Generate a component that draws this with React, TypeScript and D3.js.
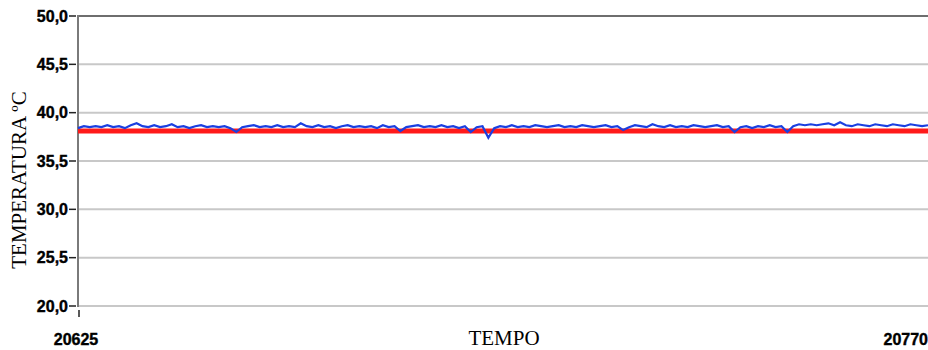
import * as d3 from "d3";
import { useEffect, useRef } from "react";

// temperature readings (blue) – one per time step
const tempoInicio = 20625;
const tempoFim = 20770;
const serieAzul = [
  38.4, 38.6, 38.5, 38.6, 38.5, 38.7, 38.5, 38.6, 38.4, 38.7,
  38.9, 38.6, 38.5, 38.7, 38.5, 38.6, 38.8, 38.5, 38.6, 38.4,
  38.6, 38.7, 38.5, 38.6, 38.5, 38.6, 38.4, 38.0, 38.5, 38.6,
  38.7, 38.5, 38.6, 38.5, 38.7, 38.5, 38.6, 38.5, 38.9, 38.6,
  38.5, 38.7, 38.5, 38.6, 38.4, 38.6, 38.7, 38.5, 38.6, 38.5,
  38.6, 38.4, 38.7, 38.5, 38.6, 38.1, 38.5, 38.6, 38.7, 38.5,
  38.6, 38.5, 38.7, 38.5, 38.6, 38.4, 38.6, 38.0, 38.5, 38.6,
  37.4, 38.4, 38.6, 38.5, 38.7, 38.5, 38.6, 38.5, 38.7, 38.6,
  38.5, 38.6, 38.7, 38.5, 38.6, 38.5, 38.7, 38.6, 38.5, 38.6,
  38.7, 38.5, 38.6, 38.2, 38.5, 38.7, 38.6, 38.5, 38.8, 38.6,
  38.5, 38.7, 38.5, 38.6, 38.5, 38.7, 38.6, 38.5, 38.6, 38.7,
  38.5, 38.6, 38.0, 38.5, 38.6, 38.4, 38.6, 38.5, 38.7, 38.5,
  38.6, 38.0, 38.6, 38.8, 38.7, 38.8, 38.7, 38.8, 38.9, 38.7,
  39.0, 38.7, 38.6, 38.8, 38.7, 38.6, 38.8, 38.7, 38.6, 38.8,
  38.7, 38.6, 38.8, 38.7, 38.6, 38.7,
];

// reference (red) – sampled every 5 steps
const serieVermelha = [
  38.1, 38.1, 38.1, 38.1, 38.1, 38.1, 38.1, 38.1, 38.1, 38.1,
  38.1, 38.1, 38.1, 38.1, 38.1, 38.1, 38.1, 38.1, 38.1, 38.1,
  38.1, 38.1, 38.1, 38.1, 38.1, 38.1, 38.1, 38.1, 38.1, 38.1,
];

const yTicks = [50, 45, 40, 35, 30, 25, 20];
const yTickLabels = ["50,0", "45,5", "40,0", "35,5", "30,0", "25,5", "20,0"];
const xTickLabels = ["20625", "20770"];

export default function App() {
  const ref = useRef<SVGSVGElement>(null);

  useEffect(() => {
    if (!ref.current) return;
    const svg = d3.select(ref.current);
    svg.selectAll("*").remove();

    const width = 928,
      height = 350,
      margin = { top: 16, right: 0, bottom: 44, left: 78 };

    const x = d3
      .scaleLinear()
      .domain([tempoInicio, tempoFim])
      .range([margin.left, width - margin.right]);

    const y = d3
      .scaleLinear()
      .domain([20, 50])
      .range([height - margin.bottom, margin.top]);

    // grid lines
    svg
      .append("g")
      .selectAll("line")
      .data(yTicks.slice(1))
      .enter()
      .append("line")
      .attr("x1", margin.left)
      .attr("x2", width)
      .attr("y1", (d) => y(d))
      .attr("y2", (d) => y(d))
      .attr("stroke", "#c8c8c8")
      .attr("stroke-width", 2);

    // top border
    svg
      .append("line")
      .attr("x1", margin.left)
      .attr("x2", width)
      .attr("y1", y(50))
      .attr("y2", y(50))
      .attr("stroke", "#6e6e6e")
      .attr("stroke-width", 2);

    // left axis line
    svg
      .append("line")
      .attr("x1", margin.left)
      .attr("x2", margin.left)
      .attr("y1", y(50) - 1)
      .attr("y2", y(20) + 1)
      .attr("stroke", "#7a7a7a")
      .attr("stroke-width", 2);

    const tickFont = (t: d3.Selection<SVGTextElement, unknown, null, undefined>) =>
      t
        .attr("font-family", "Liberation Sans, Arial, sans-serif")
        .attr("font-weight", "bold")
        .attr("font-size", "16px")
        .attr("fill", "#000")
        .attr("stroke", "#000")
        .attr("stroke-width", 0.4);

    // y ticks + labels
    const yt = svg.append("g");
    yTicks.forEach((v, i) => {
      yt.append("line")
        .attr("x1", margin.left - 9)
        .attr("x2", margin.left - 2)
        .attr("y1", y(v))
        .attr("y2", y(v))
        .attr("stroke", "#222")
        .attr("stroke-width", 1.5);
      yt.append("text")
        .attr("x", margin.left - 10)
        .attr("y", y(v))
        .attr("dy", "0.36em")
        .attr("text-anchor", "end")
        .call(tickFont)
        .text(yTickLabels[i]);
    });

    // x tick at start
    svg
      .append("line")
      .attr("x1", x(tempoInicio) + 1)
      .attr("x2", x(tempoInicio) + 1)
      .attr("y1", y(20) + 4)
      .attr("y2", y(20) + 11)
      .attr("stroke", "#222")
      .attr("stroke-width", 1.5);

    svg
      .append("text")
      .attr("x", x(tempoInicio) - 2)
      .attr("y", 345)
      .attr("text-anchor", "middle")
      .call(tickFont)
      .text(xTickLabels[0]);

    svg
      .append("text")
      .attr("x", x(tempoFim))
      .attr("y", 345)
      .attr("text-anchor", "end")
      .call(tickFont)
      .text(xTickLabels[1]);

    // red series
    const line = d3
      .line<number>()
      .x((d, i) => x(tempoInicio + i * 5))
      .y((d) => y(d));
    const redData = serieVermelha.concat([serieVermelha[serieVermelha.length - 1]]);
    svg
      .append("path")
      .datum(redData)
      .attr("fill", "none")
      .attr("stroke", "#ff1a1a")
      .attr("stroke-width", 5)
      .attr("d", line);

    // blue series
    const blueLine = d3
      .line<number>()
      .x((d, i) => x(tempoInicio + i))
      .y((d) => y(d));
    svg
      .append("path")
      .datum(serieAzul)
      .attr("fill", "none")
      .attr("stroke", "#1a3fe0")
      .attr("stroke-width", 2.2)
      .attr("stroke-linejoin", "miter")
      .attr("d", blueLine);

    // axis titles
    svg
      .append("text")
      .attr("x", 504)
      .attr("y", 345)
      .attr("text-anchor", "middle")
      .attr("font-family", "Liberation Serif, Times New Roman, serif")
      .attr("font-size", "21px")
      .attr("fill", "#000")
      .text("TEMPO");

    svg
      .append("text")
      .attr("transform", "rotate(-90)")
      .attr("x", -180)
      .attr("y", 26)
      .attr("text-anchor", "middle")
      .attr("font-family", "Liberation Serif, Times New Roman, serif")
      .attr("font-size", "21px")
      .attr("fill", "#000")
      .text("TEMPERATURA ºC");
  }, []);

  return (
    <svg
      ref={ref}
      width={928}
      height={350}
      style={{ position: "absolute", left: 0, top: 0, background: "#fff" }}
    />
  );
}
